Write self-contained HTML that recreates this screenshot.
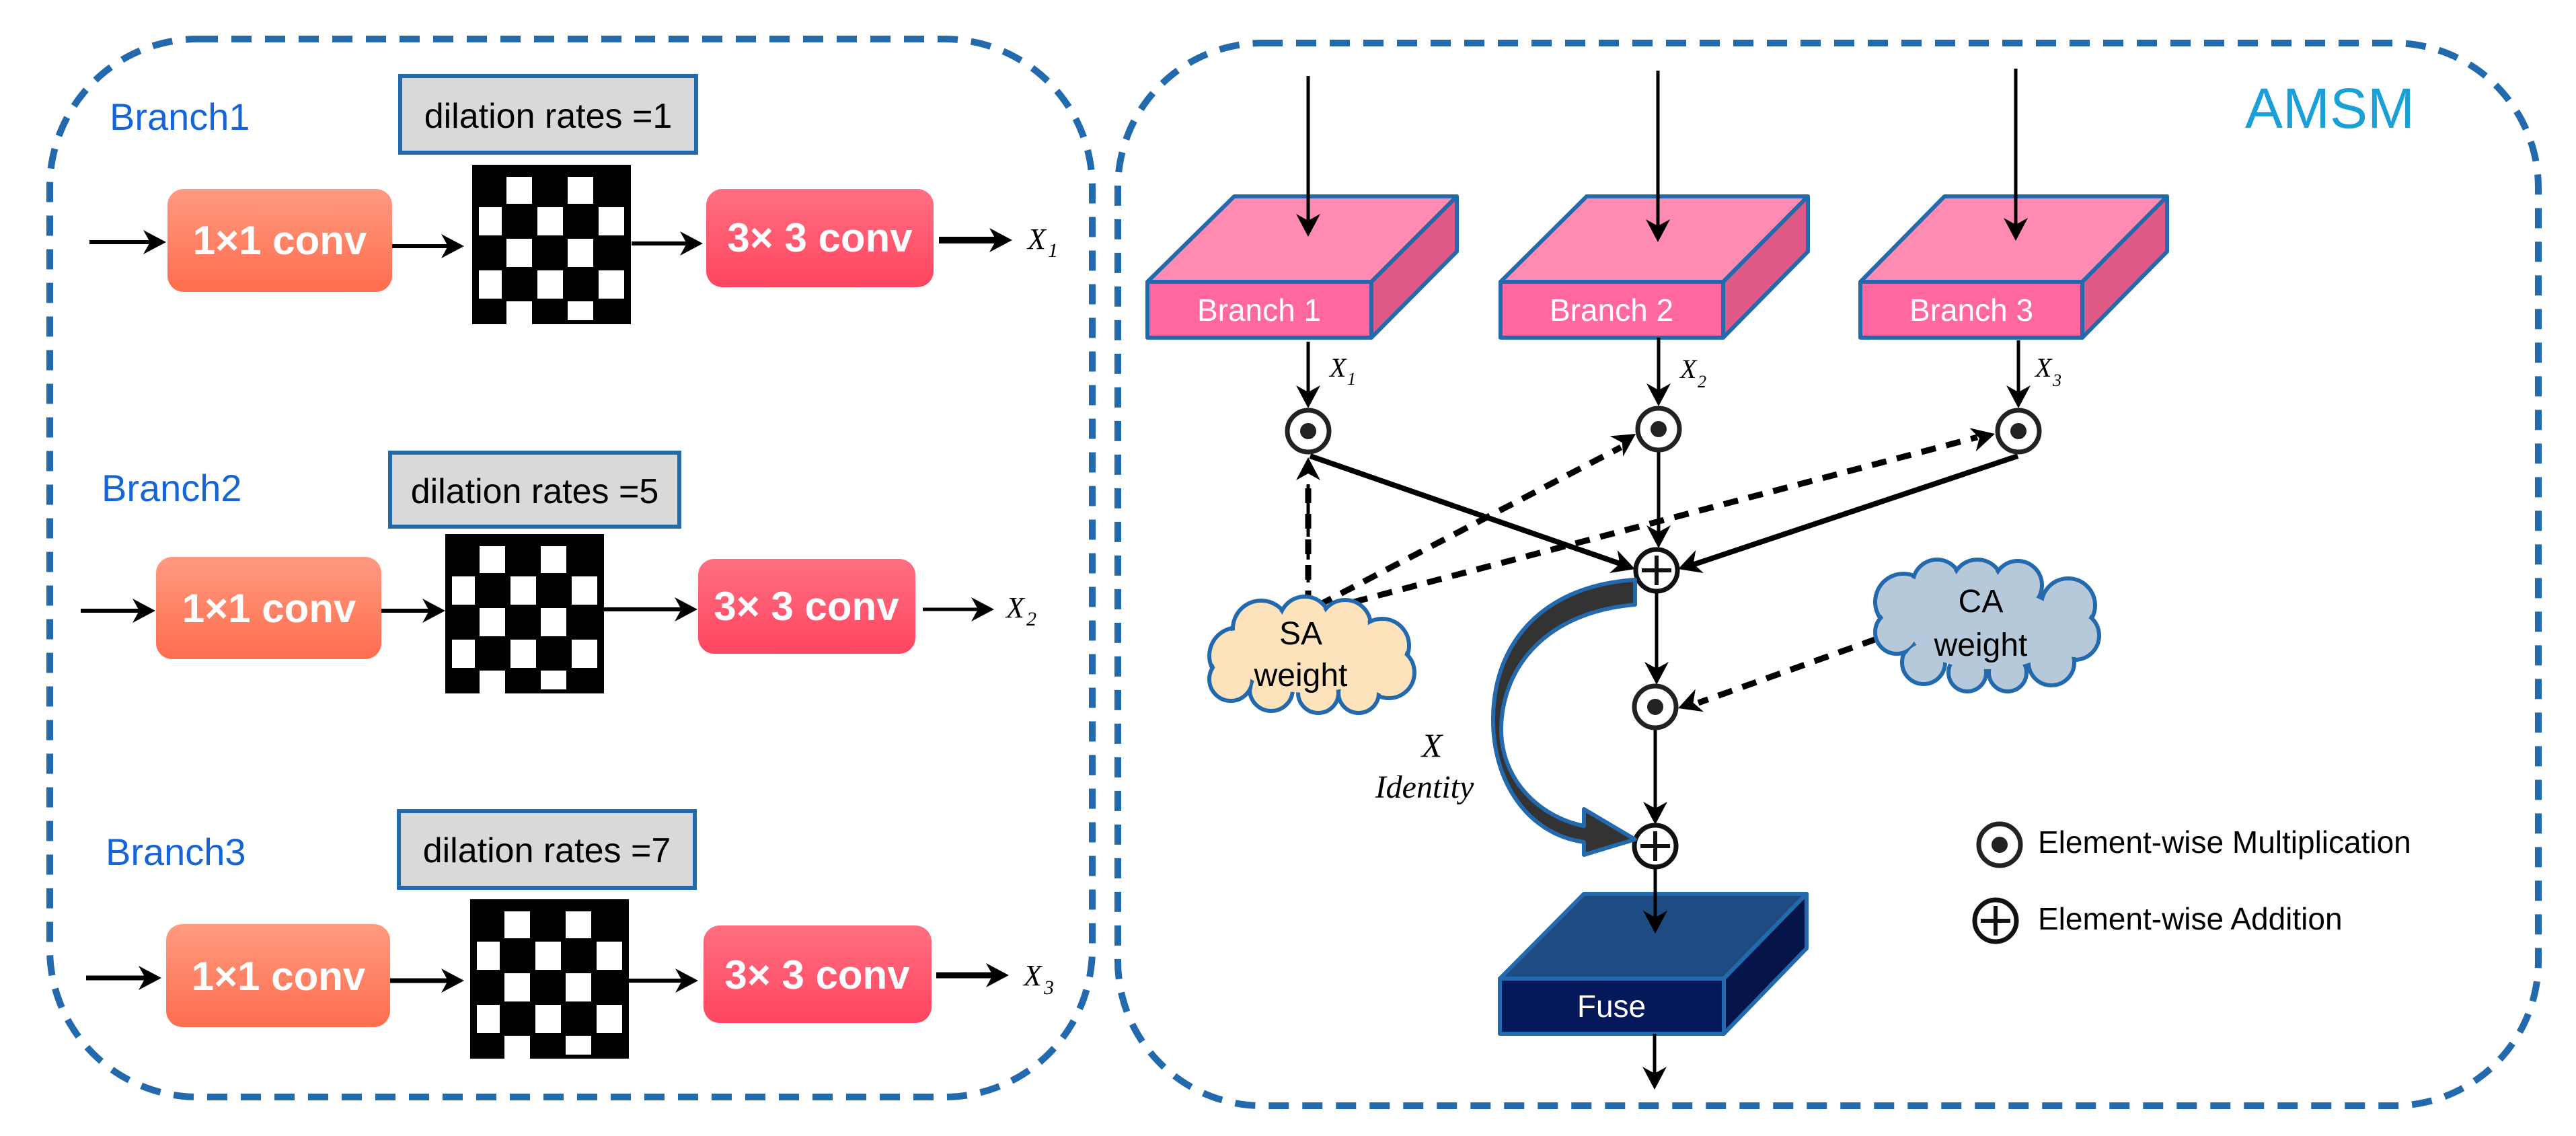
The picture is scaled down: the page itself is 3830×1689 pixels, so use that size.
<!DOCTYPE html>
<html><head><meta charset="utf-8"><style>
html,body{margin:0;padding:0;background:#fff;}
svg{display:block}
text{font-family:"Liberation Sans",sans-serif}
.it{font-family:"Liberation Serif",serif;font-style:italic}
</style></head><body>
<svg width="3830" height="1689" viewBox="0 0 3830 1689" xmlns="http://www.w3.org/2000/svg">
<defs>
<linearGradient id="g1" x1="0" y1="0" x2="0" y2="1"><stop offset="0" stop-color="#ff9a80"/><stop offset="1" stop-color="#ff6d4e"/></linearGradient>
<linearGradient id="g3" x1="0" y1="0" x2="0" y2="1"><stop offset="0" stop-color="#ff6f82"/><stop offset="1" stop-color="#ff4560"/></linearGradient>
<marker id="ah" viewBox="0 0 10 10" refX="9" refY="5" markerWidth="7" markerHeight="7" markerUnits="userSpaceOnUse" orient="auto"></marker>
<g id="arr"><path d="M0,0 L-34,-18 L-24,0 L-34,18 Z" fill="#000"/></g>
<g id="chk">
<rect x="0" y="0" width="236" height="237" fill="#000"/>
<g fill="#fff">
<rect x="51" y="18" width="38" height="40"/><rect x="142" y="18" width="38" height="40"/>
<rect x="10" y="63" width="34" height="42"/><rect x="97" y="63" width="38" height="42"/><rect x="188" y="63" width="38" height="42"/>
<rect x="51" y="110" width="38" height="42"/><rect x="142" y="110" width="38" height="42"/>
<rect x="10" y="157" width="34" height="42"/><rect x="97" y="157" width="38" height="42"/><rect x="188" y="157" width="38" height="42"/>
<rect x="51" y="203" width="38" height="38"/><rect x="142" y="203" width="38" height="28"/>
</g></g>
<g id="mul"><circle r="31" fill="#fff" stroke="#222" stroke-width="7"/><circle r="12" fill="#222"/></g>
<g id="add"><circle r="31" fill="#fff" stroke="#111" stroke-width="7"/><path d="M-22,0H22M0,-22V22" stroke="#111" stroke-width="6"/></g>
</defs>

<!-- panels -->
<rect x="74" y="58" width="1550" height="1573" rx="220" fill="none" stroke="#2369ad" stroke-width="10" stroke-dasharray="30 20"/>
<rect x="1662" y="64" width="2112" height="1580" rx="215" fill="none" stroke="#2369ad" stroke-width="10" stroke-dasharray="30 20"/>

<!-- Branch rows -->
<g>
<text x="163" y="193" font-size="56" fill="#1565d8">Branch1</text>
<rect x="595" y="113" width="440" height="114" fill="#d9d9d9" stroke="#2369ad" stroke-width="6"/>
<text x="815" y="190" font-size="52" text-anchor="middle" fill="#000">dilation rates =1</text>
<rect x="249" y="281" width="334" height="153" rx="24" fill="url(#g1)"/>
<text x="416" y="378" font-size="60" font-weight="bold" text-anchor="middle" fill="#fff">1×1 conv</text>
<use href="#chk" x="702" y="245"/>
<rect x="1050" y="281" width="338" height="146" rx="24" fill="url(#g3)"/>
<text x="1219" y="374" font-size="60" font-weight="bold" text-anchor="middle" fill="#fff">3× 3 conv</text>
<line x1="133" y1="360" x2="240" y2="360" stroke="#000" stroke-width="6"/><use href="#arr" x="247" y="360"/>
<line x1="583" y1="366" x2="683" y2="366" stroke="#000" stroke-width="6"/><use href="#arr" x="690" y="366"/>
<line x1="939" y1="362" x2="1038" y2="362" stroke="#000" stroke-width="6"/><use href="#arr" x="1045" y="362"/>
<line x1="1396" y1="357" x2="1496" y2="357" stroke="#000" stroke-width="10"/><use href="#arr" x="1505" y="357"/>
<text x="1528" y="370" font-size="44" class="it">X</text><text x="1558" y="382" font-size="30" class="it">1</text>
</g>
<g>
<text x="151" y="745" font-size="56" fill="#1565d8">Branch2</text>
<rect x="580" y="673" width="430" height="110" fill="#d9d9d9" stroke="#2369ad" stroke-width="6"/>
<text x="795" y="748" font-size="52" text-anchor="middle" fill="#000">dilation rates =5</text>
<rect x="232" y="828" width="335" height="152" rx="24" fill="url(#g1)"/>
<text x="400" y="925" font-size="60" font-weight="bold" text-anchor="middle" fill="#fff">1×1 conv</text>
<use href="#chk" x="662" y="794" transform="translate(0,0)"/>
<rect x="1038" y="831" width="323" height="141" rx="24" fill="url(#g3)"/>
<text x="1199" y="922" font-size="60" font-weight="bold" text-anchor="middle" fill="#fff">3× 3 conv</text>
<line x1="120" y1="908" x2="224" y2="908" stroke="#000" stroke-width="6"/><use href="#arr" x="231" y="908"/>
<line x1="567" y1="908" x2="655" y2="908" stroke="#000" stroke-width="6"/><use href="#arr" x="662" y="908"/>
<line x1="898" y1="906" x2="1030" y2="906" stroke="#000" stroke-width="6"/><use href="#arr" x="1037" y="906"/>
<line x1="1372" y1="906" x2="1470" y2="906" stroke="#000" stroke-width="5"/><use href="#arr" x="1478" y="906"/>
<text x="1496" y="918" font-size="44" class="it">X</text><text x="1526" y="930" font-size="30" class="it">2</text>
</g>
<g>
<text x="157" y="1286" font-size="56" fill="#1565d8">Branch3</text>
<rect x="593" y="1206" width="440" height="114" fill="#d9d9d9" stroke="#2369ad" stroke-width="6"/>
<text x="813" y="1282" font-size="52" text-anchor="middle" fill="#000">dilation rates =7</text>
<rect x="247" y="1374" width="333" height="153" rx="24" fill="url(#g1)"/>
<text x="414" y="1472" font-size="60" font-weight="bold" text-anchor="middle" fill="#fff">1×1 conv</text>
<use href="#chk" x="699" y="1337"/>
<rect x="1046" y="1376" width="339" height="145" rx="24" fill="url(#g3)"/>
<text x="1215" y="1470" font-size="60" font-weight="bold" text-anchor="middle" fill="#fff">3× 3 conv</text>
<line x1="128" y1="1454" x2="232" y2="1454" stroke="#000" stroke-width="7"/><use href="#arr" x="240" y="1454"/>
<line x1="580" y1="1458" x2="682" y2="1458" stroke="#000" stroke-width="7"/><use href="#arr" x="690" y="1458"/>
<line x1="934" y1="1458" x2="1030" y2="1458" stroke="#000" stroke-width="6"/><use href="#arr" x="1038" y="1458"/>
<line x1="1392" y1="1450" x2="1490" y2="1450" stroke="#000" stroke-width="9"/><use href="#arr" x="1500" y="1450"/>
<text x="1522" y="1465" font-size="44" class="it">X</text><text x="1552" y="1478" font-size="30" class="it">3</text>
</g>

<!-- AMSM -->
<text x="3338" y="190" font-size="84" fill="#1a9fd6">AMSM</text>

<!-- 3D branch boxes -->
<g stroke="#2369ad" stroke-width="6" stroke-linejoin="round">
<polygon points="1706,419 1835,292 2166,292 2039,419" fill="#ff8ab2"/>
<polygon points="2039,419 2166,292 2166,374 2039,502" fill="#e05a88"/>
<rect x="1706" y="419" width="333" height="83" fill="#ff68a0"/>
<polygon points="2231,419 2359,292 2688,292 2562,419" fill="#ff8ab2"/>
<polygon points="2562,419 2688,292 2688,374 2562,502" fill="#e05a88"/>
<rect x="2231" y="419" width="331" height="83" fill="#ff68a0"/>
<polygon points="2766,419 2891,292 3222,292 3096,419" fill="#ff8ab2"/>
<polygon points="3096,419 3222,292 3222,374 3096,502" fill="#e05a88"/>
<rect x="2766" y="419" width="330" height="83" fill="#ff68a0"/>
</g>
<g font-size="46" fill="#fff" text-anchor="middle">
<text x="1872" y="477">Branch 1</text><text x="2396" y="477">Branch 2</text><text x="2931" y="477">Branch 3</text>
</g>

<!-- input arrows -->
<g stroke="#000" stroke-width="5">
<line x1="1945" y1="113" x2="1945" y2="345"/><line x1="2465" y1="105" x2="2465" y2="352"/><line x1="2997" y1="102" x2="2997" y2="350"/>
<line x1="1945" y1="508" x2="1945" y2="600"/><line x1="2466" y1="502" x2="2466" y2="597"/><line x1="3001" y1="506" x2="3001" y2="600"/>
</g>
<use href="#arr" transform="translate(1945,352) rotate(90)"/>
<use href="#arr" transform="translate(2465,360) rotate(90)"/>
<use href="#arr" transform="translate(2997,358) rotate(90)"/>
<use href="#arr" transform="translate(1945,607) rotate(90)"/>
<use href="#arr" transform="translate(2466,604) rotate(90)"/>
<use href="#arr" transform="translate(3001,607) rotate(90)"/>
<text x="1977" y="560" font-size="40" class="it">X</text><text x="2003" y="572" font-size="26" class="it">1</text>
<text x="2498" y="562" font-size="40" class="it">X</text><text x="2524" y="576" font-size="26" class="it">2</text>
<text x="3026" y="560" font-size="40" class="it">X</text><text x="3052" y="574" font-size="26" class="it">3</text>

<!-- solid thick lines to plus -->
<g stroke="#000" stroke-width="8">
<line x1="1948" y1="678" x2="2420" y2="842"/>
<line x1="3000" y1="678" x2="2510" y2="842"/>
</g>
<g stroke="#000" stroke-width="5">
<line x1="2466" y1="670" x2="2466" y2="805"/>
<line x1="2463" y1="880" x2="2463" y2="1010"/>
<line x1="2461" y1="1083" x2="2461" y2="1218"/>
<line x1="2461" y1="1290" x2="2461" y2="1380"/>
<line x1="2460" y1="1537" x2="2460" y2="1610"/>
</g>
<use href="#arr" transform="translate(2431,846) rotate(19)"/>
<use href="#arr" transform="translate(2495,846) rotate(161)"/>
<use href="#arr" transform="translate(2466,815) rotate(90)"/>
<use href="#arr" transform="translate(2463,1018) rotate(90)"/>
<use href="#arr" transform="translate(2461,1226) rotate(90)"/>

<!-- dashed lines -->
<g stroke="#000" stroke-width="9" stroke-dasharray="22 16" fill="none">
<line x1="1945" y1="900" x2="1945" y2="720"/>
<line x1="1960" y1="900" x2="2410" y2="665"/>
<line x1="1975" y1="905" x2="2940" y2="650"/>
<line x1="2790" y1="950" x2="2525" y2="1045"/>
</g>
<g stroke="#000" stroke-width="5" stroke-dasharray="20 14"><line x1="1945" y1="900" x2="1945" y2="720"/></g>
<use href="#arr" transform="translate(1945,680) rotate(-90)"/>
<use href="#arr" transform="translate(2432,645) rotate(-33)"/>
<use href="#arr" transform="translate(2966,645) rotate(-15)"/>
<use href="#arr" transform="translate(2495,1053) rotate(160)"/>

<!-- operators -->
<use href="#mul" x="1945" y="641"/>
<use href="#mul" x="2466" y="638"/>
<use href="#mul" x="3001" y="641"/>
<use href="#add" x="2463" y="848"/>
<use href="#mul" x="2461" y="1051"/>
<use href="#add" x="2461" y="1258"/>

<!-- clouds -->
<g>
<g fill="#fde3bc" stroke="#2369ad" stroke-width="6">
<circle cx="1840" cy="975" r="42"/><circle cx="1875" cy="935" r="42"/><circle cx="1940" cy="925" r="38"/><circle cx="2000" cy="930" r="38"/><circle cx="2055" cy="960" r="40"/><circle cx="2065" cy="1000" r="38"/><circle cx="2020" cy="1030" r="30"/><circle cx="1960" cy="1030" r="30"/><circle cx="1890" cy="1025" r="32"/><circle cx="1830" cy="1010" r="32"/>
</g>
<g fill="#fde3bc">
<circle cx="1840" cy="975" r="38"/><circle cx="1875" cy="935" r="38"/><circle cx="1940" cy="925" r="34"/><circle cx="2000" cy="930" r="34"/><circle cx="2055" cy="960" r="36"/><circle cx="2065" cy="1000" r="34"/><circle cx="2020" cy="1030" r="26"/><circle cx="1960" cy="1030" r="26"/><circle cx="1890" cy="1025" r="28"/><circle cx="1830" cy="1010" r="28"/>
<ellipse cx="1945" cy="975" rx="110" ry="55"/>
</g>
<text x="1934" y="958" font-size="48" text-anchor="middle">SA</text>
<text x="1934" y="1020" font-size="48" text-anchor="middle">weight</text>
</g>
<g>
<g fill="#b5c9da" stroke="#2369ad" stroke-width="6">
<circle cx="2830" cy="895" r="42"/><circle cx="2880" cy="868" r="36"/><circle cx="2940" cy="870" r="38"/><circle cx="3000" cy="870" r="36"/><circle cx="3075" cy="900" r="40"/><circle cx="3085" cy="945" r="36"/><circle cx="3050" cy="985" r="34"/><circle cx="2985" cy="1000" r="28"/><circle cx="2925" cy="1000" r="28"/><circle cx="2860" cy="985" r="32"/><circle cx="2820" cy="940" r="32"/>
</g>
<g fill="#b5c9da">
<circle cx="2830" cy="895" r="38"/><circle cx="2880" cy="868" r="32"/><circle cx="2940" cy="870" r="34"/><circle cx="3000" cy="870" r="32"/><circle cx="3075" cy="900" r="36"/><circle cx="3085" cy="945" r="32"/><circle cx="3050" cy="985" r="30"/><circle cx="2985" cy="1000" r="24"/><circle cx="2925" cy="1000" r="24"/><circle cx="2860" cy="985" r="28"/><circle cx="2820" cy="940" r="28"/>
<ellipse cx="2955" cy="935" rx="115" ry="60"/>
</g>
<text x="2945" y="910" font-size="48" text-anchor="middle">CA</text>
<text x="2945" y="975" font-size="48" text-anchor="middle">weight</text>
</g>

<!-- identity curved arrow -->
<path d="M2431,862 L2431,899 C2300,910 2235,990 2232,1080 C2230,1160 2290,1215 2355,1228 L2355,1203 L2431,1248 L2355,1271 L2355,1252 C2270,1240 2218,1160 2220,1065 C2222,950 2300,870 2431,862 Z" fill="#333" stroke="#2369ad" stroke-width="6" stroke-linejoin="round"/>
<text x="2129" y="1125" font-size="50" class="it" text-anchor="middle">X</text>
<text x="2118" y="1186" font-size="48" class="it" text-anchor="middle">Identity</text>

<!-- Fuse box -->
<g stroke="#2369ad" stroke-width="6" stroke-linejoin="round">
<polygon points="2230,1455 2355,1329 2686,1329 2563,1455" fill="#1e4b82"/>
<polygon points="2563,1455 2686,1329 2686,1410 2563,1537" fill="#05154a"/>
<rect x="2230" y="1455" width="333" height="82" fill="#04185a"/>
</g>
<line x1="2461" y1="1290" x2="2461" y2="1380" stroke="#000" stroke-width="5"/>
<use href="#arr" transform="translate(2461,1388) rotate(90)"/>
<text x="2396" y="1512" font-size="46" fill="#fff" text-anchor="middle">Fuse</text>
<line x1="2460" y1="1537" x2="2460" y2="1612" stroke="#000" stroke-width="5"/>
<use href="#arr" transform="translate(2460,1620) rotate(90)"/>

<!-- legend -->
<use href="#mul" x="2973" y="1256"/>
<use href="#add" x="2967" y="1369"/>
<text x="3030" y="1268" font-size="46">Element-wise Multiplication</text>
<text x="3030" y="1382" font-size="46">Element-wise Addition</text>
</svg>
</body></html>
